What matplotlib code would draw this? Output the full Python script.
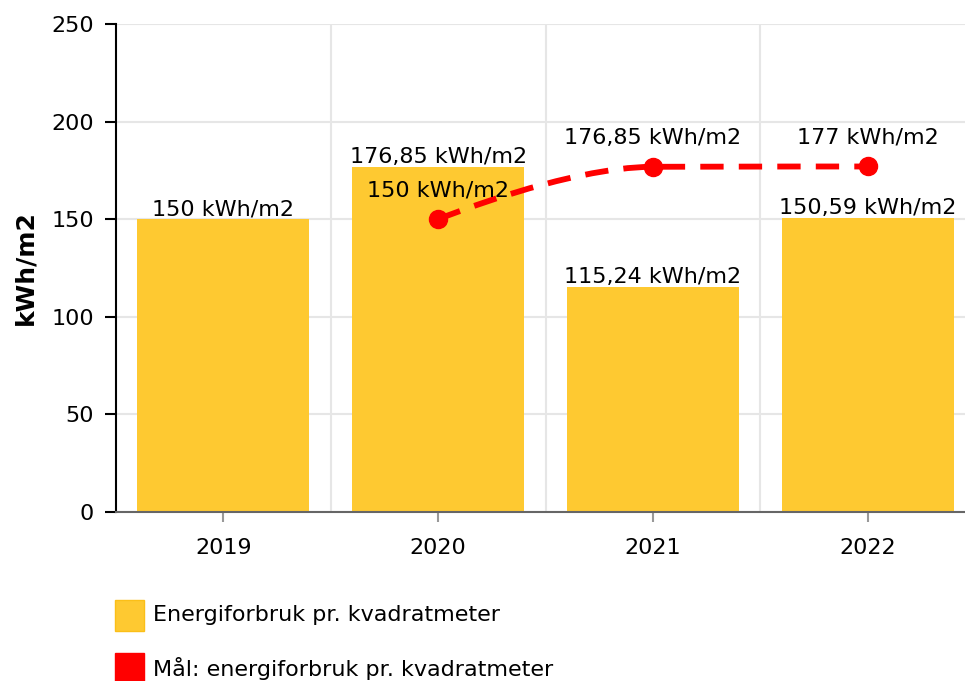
import matplotlib
matplotlib.use("Agg")
import matplotlib.pyplot as plt
from matplotlib.path import Path
from matplotlib.patches import PathPatch, Rectangle

# data
years = ["2019", "2020", "2021", "2022"]
forbruk = [150, 176.85, 115.24, 150.59]
forbruk_txt = ["150 kWh/m2", "176,85 kWh/m2", "115,24 kWh/m2", "150,59 kWh/m2"]
maal_x = [1, 2, 3]
maal = [150, 176.85, 177]
maal_txt = ["150 kWh/m2", "176,85 kWh/m2", "177 kWh/m2"]

gul = "#fec931"
rod = "#ff0000"
fs = 16

plt.rcParams.update({"font.family": "DejaVu Sans", "font.size": fs})
fig = plt.figure(figsize=(9.65, 6.81), dpi=100)
ax = fig.add_axes([116 / 965, 169 / 681, 859 / 965, 488 / 681])

x = list(range(len(years)))
ax.bar(x, forbruk, width=0.8, color=gul, zorder=2)
for xi, v, t in zip(x, forbruk, forbruk_txt):
    ax.annotate(t, (xi, v), xytext=(0, 0), textcoords="offset points",
                ha="center", va="bottom", fontsize=fs, zorder=5)


# spline a la highcharts (bezier med kontrollpunkter)
def spline_path(xs, ys, smoothing=1.5):
    verts = [(xs[0], ys[0])]
    codes = [Path.MOVETO]
    n = len(xs)
    right = [(xs[0], ys[0])]
    left = [None]
    for i in range(1, n):
        if i < n - 1:
            d = smoothing + 1
            lx = (smoothing * xs[i] + xs[i - 1]) / d
            ly = (smoothing * ys[i] + ys[i - 1]) / d
            rx = (smoothing * xs[i] + xs[i + 1]) / d
            ry = (smoothing * ys[i] + ys[i + 1]) / d
            if rx != lx:
                corr = ((ry - ly) * (rx - xs[i])) / (rx - lx) + ys[i] - ry
                ly += corr
                ry += corr
            if ry > ys[i - 1] and ry > ys[i + 1]:
                ry = max(ys[i - 1], ys[i + 1])
                ly = 2 * ys[i] - ry
            elif ry < ys[i - 1] and ry < ys[i + 1]:
                ry = min(ys[i - 1], ys[i + 1])
                ly = 2 * ys[i] - ry
            left.append((lx, ly))
            right.append((rx, ry))
        else:
            left.append((xs[i], ys[i]))
            right.append((xs[i], ys[i]))
    for i in range(1, n):
        verts += [right[i - 1], left[i], (xs[i], ys[i])]
        codes += [Path.CURVE4] * 3
    return Path(verts, codes)


ax.add_patch(PathPatch(spline_path(maal_x, maal), fill=False, edgecolor=rod,
                       lw=4.2, linestyle=(0, (4, 2.6)), capstyle="butt", zorder=4))
ax.plot(maal_x, maal, "o", color=rod, markersize=13, zorder=4)
for xi, v, t in zip(maal_x, maal, maal_txt):
    ax.annotate(t, (xi, v), xytext=(0, 21), textcoords="offset points",
                ha="center", va="center", fontsize=fs, zorder=5)

ax.set_xlim(-0.5, 3.5)
ax.set_ylim(0, 250)
ax.set_yticks(range(0, 251, 50))
ax.set_xticks(x)
ax.set_xticklabels(years)
ax.set_xticks([0.5, 1.5, 2.5], minor=True)
ax.grid(axis="y", color="#e6e6e6", lw=1.5, zorder=0)
ax.grid(axis="x", which="minor", color="#e6e6e6", lw=1.5, zorder=0)
ax.tick_params(axis="x", which="minor", length=0)
ax.tick_params(axis="x", which="major", length=7, width=1.5, color="#999999",
               pad=12, labelsize=fs)
ax.tick_params(axis="y", length=8, width=1.5, color="black", pad=8, labelsize=fs)
for s in ["top", "right"]:
    ax.spines[s].set_visible(False)
ax.spines["left"].set_linewidth(1.5)
ax.spines["bottom"].set_color("#666666")
ax.spines["bottom"].set_linewidth(1.5)
ax.set_axisbelow(True)
ax.set_ylabel("kWh/m2", fontweight="bold", fontsize=18, labelpad=10)

# legende
fig.add_artist(Rectangle((115 / 965, 1 - 631 / 681), 29 / 965, 31 / 681,
                         transform=fig.transFigure, facecolor=gul,
                         edgecolor="#fbbf18", lw=1))
fig.text(153 / 965, 1 - 615 / 681, "Energiforbruk pr. kvadratmeter",
         va="center", ha="left", fontsize=fs)
fig.add_artist(Rectangle((115 / 965, 1 - 684 / 681), 29 / 965, 31 / 681,
                         transform=fig.transFigure, facecolor=rod,
                         edgecolor=rod, lw=1))
fig.text(153 / 965, 1 - 668 / 681, "Mål: energiforbruk pr. kvadratmeter",
         va="center", ha="left", fontsize=fs)

fig.savefig("out.png", dpi=100)
